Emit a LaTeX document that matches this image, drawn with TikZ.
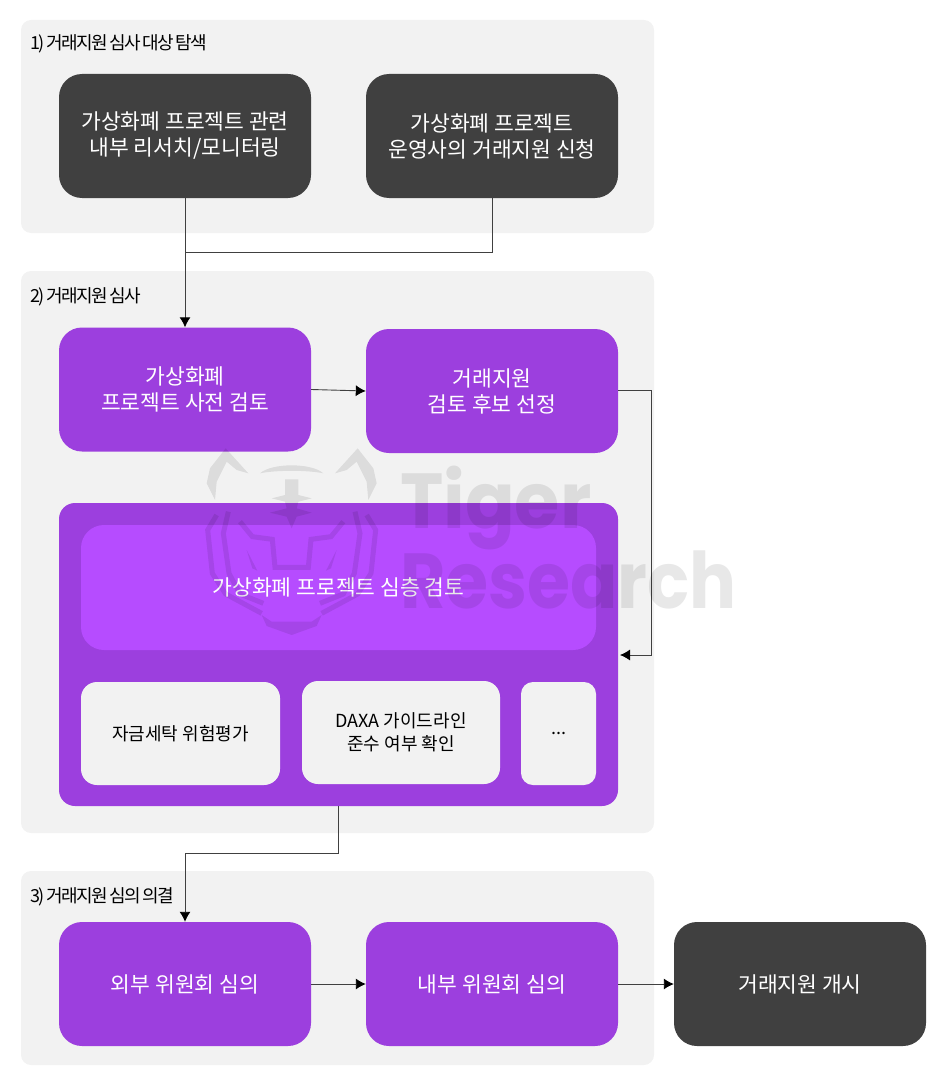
\documentclass[tikz,border=0pt]{standalone}
\usepackage{fontspec}
\setmainfont{Noto Sans CJK KR}
\newfontfamily\wmfont{Poppins}
\newfontfamily\secfont[LetterSpace=-8,WordSpace=0.55]{Noto Sans CJK KR}
\usetikzlibrary{arrows.meta}
\definecolor{panelc}{HTML}{F2F2F2}
\definecolor{darkc}{HTML}{404040}
\definecolor{purplec}{HTML}{9C3FDE}
\definecolor{brightc}{HTML}{B64CFF}
\definecolor{linec}{HTML}{404040}
\tikzset{
 x=1pt,y=-1pt,
 panel/.style={fill=panelc,rounded corners=10pt,inner sep=0pt},
 box/.style={rounded corners=23pt,inner sep=0pt,minimum width=252pt,minimum height=124pt,align=center,text=white,font=\fontsize{21.5}{26}\selectfont},
 darkbox/.style={box,fill=darkc},
 purplebox/.style={box,fill=purplec},
 lightbox/.style={rounded corners=16pt,inner sep=0pt,fill=panelc,text=black,align=center,font=\fontsize{18}{23}\selectfont},
 seclabel/.style={anchor=west,inner sep=0pt,text=black,font=\secfont\fontsize{18}{20}\selectfont},
 conn/.style={draw=linec,line width=0.9pt},
 arr/.style={conn,-{Latex[length=10pt,width=11pt,black]}},
 wm/.style={fill=black,fill opacity=0.09,draw=none},
 wmline/.style={draw=black,draw opacity=0.09,line width=5pt,fill=none,line join=miter},
 wmtext/.style={anchor=base west,inner sep=0pt,text=black,text opacity=0.09,font=\wmfont\bfseries\fontsize{78}{78}\selectfont},
}
\newcommand{\logohalf}{%
 \fill[wm] (92,25) -- (160,100) -- (125,90) -- (95,65) -- (65,125) -- (60,180) -- (35,130) -- (45,85) -- cycle;
 \draw[wmline] (65,225) -- (38,270) -- (52,400) -- (92,462) -- (200,520);
 \draw[wmline] (100,215) -- (85,280) -- (102,400) -- (135,462) -- (205,490);
 \fill[wm] (155,330) -- (187,392) -- (172,385) -- cycle;
}
\begin{document}
\begin{tikzpicture}
\useasboundingbox (0,0) rectangle (948,1078);
\node[panel,minimum width=633pt,minimum height=213pt] (s1) at (337.5,126.5) {};
\node[panel,minimum width=633pt,minimum height=562pt] (s2) at (337.5,552) {};
\node[panel,minimum width=633pt,minimum height=194pt] (s3) at (337.5,968) {};
\node[seclabel] (l1) at (30,44) {1) 거래지원 심사 대상 탐색};
\node[seclabel] (l2) at (30,297) {2) 거래지원 심사};
\node[seclabel] (l3) at (30,897) {3) 거래지원 심의 의결};
\node[darkbox] (a) at (185,136) {가상화폐 프로젝트 관련\\내부 리서치/모니터링};
\node[darkbox] (b) at (492,136) {가상화폐 프로젝트\\운영사의 거래지원 신청};
\node[purplebox] (c) at (185,389.5) {가상화폐\\프로젝트 사전 검토};
\node[purplebox] (d) at (492,391) {거래지원\\검토 후보 선정};
\node[purplebox,minimum width=559pt,minimum height=303pt,rounded corners=16pt] (big) at (338.5,654.5) {};
\node[box,fill=brightc,minimum width=515pt,minimum height=125pt] (inner) at (338.5,587.5) {가상화폐 프로젝트 심층 검토};
\node[lightbox,minimum width=199pt,minimum height=103pt] (e) at (180.5,733.5) {자금세탁 위험평가};
\node[lightbox,minimum width=198pt,minimum height=103pt] (f) at (401,732.5) {DAXA 가이드라인\\준수 여부 확인};
\node[lightbox,minimum width=75pt,minimum height=103pt,rounded corners=12pt] (g) at (558.5,733.5) {...};
\node[purplebox] (h) at (185,984) {외부 위원회 심의};
\node[purplebox] (i) at (492,984) {내부 위원회 심의};
\node[darkbox] (j) at (800,984) {거래지원 개시};
\coordinate (join) at (185,252);
\coordinate (dr) at (651,390);
\coordinate (bigin) at (651,655);
\coordinate (bigpt) at (620,655);
\coordinate (bigout) at (338,853);
\coordinate (hin) at (185,853);
\draw[arr] (a.south) -- (c.north);
\draw[conn] (b.south) -- (492,252) -- (join);
\draw[arr] (c.east) -- (d.west);
\draw[arr] (d.east |- dr) -- (dr) -- (bigin) -- (bigpt);
\draw[conn] (338,806) -- (bigout) -- (hin);
\draw[arr] (hin) -- (h.north);
\draw[arr] (h) -- (i);
\draw[arr] (i) -- (j);
% watermark
\node[wmtext,xscale=0.94,transform shape] (wm1) at (400,528) {Tiger};
\node[wmtext,xscale=0.894,transform shape] (wm2) at (400,608) {Research};
\begin{scope}[shift={(195,440)},x=0.33333pt,y=-0.33333pt]
 \logohalf
 \fill[wm] (195,100) .. controls (230,68) and (350,68) .. (385,100) .. controls (340,90) and (240,90) .. (195,100) -- cycle;
 \fill[wm] (270,118) -- (310,118) -- (310,165) -- (350,175) -- (310,185) -- (305,205) -- (350,218) -- (305,230) -- (290,265) -- (275,230) -- (225,218) -- (275,205) -- (270,185) -- (230,175) -- (270,165) -- cycle;
 \draw[wmline] (135,245) -- (172,290) -- (232,298) -- (240,382) -- (340,382) -- (348,298) -- (408,290) -- (445,245);
 \fill[wm] (200,525) -- (230,545) -- (350,545) -- (380,525) -- (365,558) -- (290,585) -- (215,558) -- cycle;
\end{scope}
\begin{scope}[shift={(388.33,440)},x=-0.33333pt,y=-0.33333pt]
 \logohalf
\end{scope}
\end{tikzpicture}
\end{document}
